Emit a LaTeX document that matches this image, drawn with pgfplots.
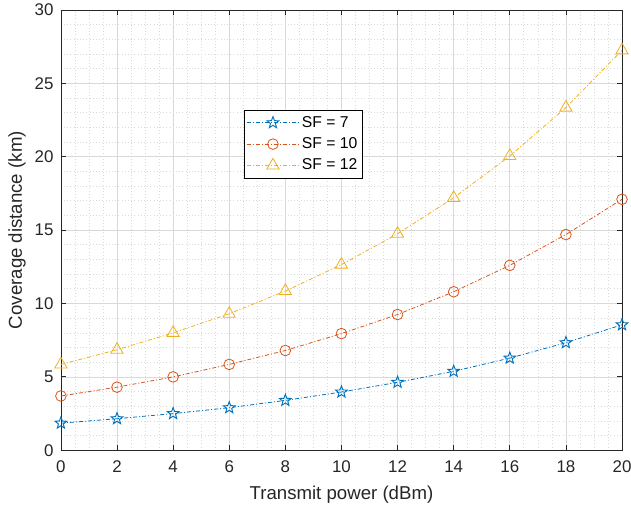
\documentclass[border=0pt]{standalone}
\usepackage{pgfplots}
\pgfplotsset{compat=1.18}
\usepackage{fontspec}
\setmainfont{Liberation Sans}
\definecolor{mblue}{RGB}{0,114,189}
\definecolor{morange}{RGB}{217,83,25}
\definecolor{myellow}{RGB}{237,177,32}
\definecolor{tickc}{RGB}{38,38,38}
\pgfdeclareplotmark{pentastar}{%
  \pgfpathmoveto{\pgfpointpolar{90}{\pgfplotmarksize}}%
  \pgfpathlineto{\pgfpointpolar{126}{0.42\pgfplotmarksize}}%
  \pgfpathlineto{\pgfpointpolar{162}{\pgfplotmarksize}}%
  \pgfpathlineto{\pgfpointpolar{198}{0.42\pgfplotmarksize}}%
  \pgfpathlineto{\pgfpointpolar{234}{\pgfplotmarksize}}%
  \pgfpathlineto{\pgfpointpolar{270}{0.42\pgfplotmarksize}}%
  \pgfpathlineto{\pgfpointpolar{306}{\pgfplotmarksize}}%
  \pgfpathlineto{\pgfpointpolar{342}{0.42\pgfplotmarksize}}%
  \pgfpathlineto{\pgfpointpolar{18}{\pgfplotmarksize}}%
  \pgfpathlineto{\pgfpointpolar{54}{0.42\pgfplotmarksize}}%
  \pgfpathclose\pgfusepathqstroke}
\begin{document}
\begin{tikzpicture}
\begin{axis}[
  scale only axis,
  width=421.5pt, height=330.75pt,
  xmin=0, xmax=20, ymin=0, ymax=30,
  xtick={0,2,...,20}, ytick={0,5,...,30},
  minor x tick num=3, minor y tick num=4,
  grid=both,
  major grid style={draw=black!15, line width=0.5pt},
  minor grid style={draw=black!15, dotted, line width=0.5pt},
  axis line style={draw=tickc, line width=0.6pt},
  tick style={draw=tickc, line width=0.6pt},
  minor tick length=0pt,
  major tick length=4pt,
  tick align=inside,
  xtick pos=both, ytick pos=both,
  ticklabel style={font=\fontsize{12.7}{14}\selectfont, text=tickc},
  xticklabel style={yshift=-4.5pt},
  yticklabel style={xshift=-2pt},
  /pgf/number format/assume math mode=true,
  xlabel={Transmit power (dBm)},
  ylabel={Coverage distance (km)},
  every axis x label/.style={at={(axis description cs:0.5,-0.1111)}, anchor=base, font=\fontsize{14}{16}\selectfont, text=tickc},
  every axis y label/.style={at={(axis description cs:-0.0783,0.5)}, anchor=center, rotate=90, font=\fontsize{14}{16}\selectfont, text=tickc},
  legend style={at={(0.3256,0.773)}, anchor=north west, draw=black, line width=0.5pt,
    font=\fontsize{11.8}{13}\selectfont, row sep=2.3pt, inner xsep=2pt, inner ysep=2.5pt},
  legend cell align=left,
  legend image code/.code={\draw[mark repeat=2,mark phase=2] plot coordinates {(0pt,0pt) (19.5pt,0pt) (39pt,0pt)};},
  every axis plot/.append style={line width=0.6pt, dash pattern=on 3pt off 1.5pt on 0.8pt off 1.5pt},
]
\addplot[mblue, mark=pentastar, mark size=4.6pt, mark options={solid, line width=0.7pt}] coordinates {
(0,1.85) (2,2.15) (4,2.5) (6,2.9) (8,3.4) (10,3.97) (12,4.63) (14,5.38) (16,6.28) (18,7.33) (20,8.55)};
\addlegendentry{SF = 7}
\addplot[morange, mark=o, mark size=4pt, mark options={solid, line width=0.6pt}] coordinates {
(0,3.7) (2,4.3) (4,5.0) (6,5.85) (8,6.8) (10,7.95) (12,9.25) (14,10.8) (16,12.6) (18,14.7) (20,17.1)};
\addlegendentry{SF = 10\hspace{3pt}}
\addplot[myellow, mark=triangle, mark size=5.3pt, mark options={solid, line width=0.6pt}] coordinates {
(0,5.85) (2,6.85) (4,8.0) (6,9.3) (8,10.85) (10,12.65) (12,14.75) (14,17.2) (16,20.05) (18,23.35) (20,27.25)};
\addlegendentry{SF = 12}
\path (rel axis cs:0,0) coordinate (A) (rel axis cs:1,1) coordinate (B);
\end{axis}
\pgfresetboundingbox
\path ([shift={(-45.75pt,-42.75pt)}]A) rectangle ([shift={(6.75pt,7.5pt)}]B);
\end{tikzpicture}
\end{document}
